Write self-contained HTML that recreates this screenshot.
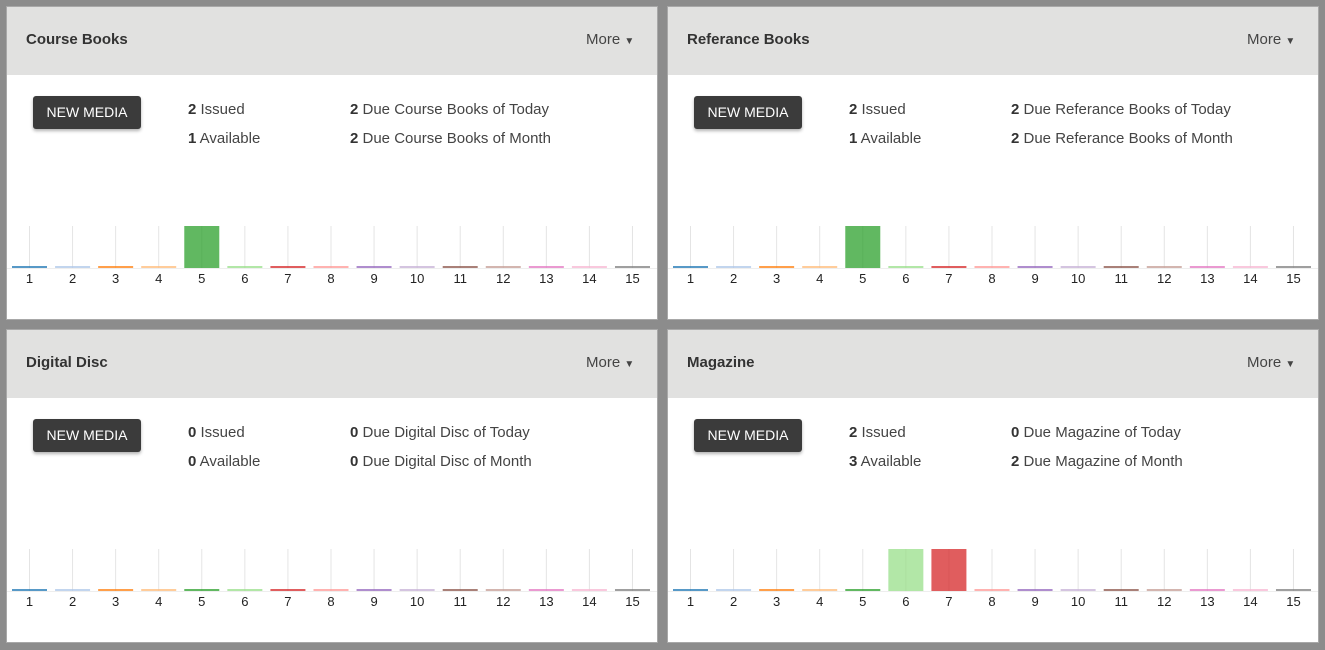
<!DOCTYPE html>
<html><head><meta charset="utf-8"><style>
body{margin:0;width:1325px;height:650px;background:#8c8c8c;font-family:"Liberation Sans",sans-serif;position:relative;overflow:hidden}
.panel{position:absolute;width:650px;height:312px;background:#fff;outline:1px solid #a8a8a8}
.hdr{position:absolute;left:0;top:0;width:650px;height:68px;background:#e1e1e0}
.title{position:absolute;left:19px;top:24px;font-size:15px;font-weight:bold;color:#333}
.more{position:absolute;left:579px;top:24px;font-size:15px;color:#444}
.btn{position:absolute;left:26px;top:89px;width:108px;height:33px;background:#3b3b3b;color:#fff;border-radius:3px;font-size:14px;line-height:33px;text-align:center;box-shadow:0 2px 3px rgba(0,0,0,.3)}
.st{position:absolute;font-size:15px;color:#444}
.st b{color:#333}
svg{position:absolute;left:0;top:200px}
</style></head><body>
<div id="root"></div>
<script>
const panels=[
 {name:'course-books',title:'Course Books',x:7,y:7,issued:2,avail:1,today:2,month:2,label:'Course Books'},
 {name:'referance-books',title:'Referance Books',x:668,y:7,issued:2,avail:1,today:2,month:2,label:'Referance Books'},
 {name:'digital-disc',title:'Digital Disc',x:7,y:330,issued:0,avail:0,today:0,month:0,label:'Digital Disc'},
 {name:'magazine',title:'Magazine',x:668,y:330,issued:2,avail:3,today:0,month:2,label:'Magazine'}
];
const categories=[1,2,3,4,5,6,7,8,9,10,11,12,13,14,15];
const courseValues=[0,0,0,0,2,0,0,0,0,0,0,0,0,0,0];
const referanceValues=[0,0,0,0,2,0,0,0,0,0,0,0,0,0,0];
const digitalValues=[0,0,0,0,0,0,0,0,0,0,0,0,0,0,0];
const magazineValues=[0,0,0,0,0,2,2,0,0,0,0,0,0,0,0];
const series=[courseValues,referanceValues,digitalValues,magazineValues];
const colors=['#1f77b4','#aec7e8','#ff7f0e','#ffbb78','#2ca02c','#98df8a','#d62728','#ff9896','#9467bd','#c5b0d5','#8c564b','#c49c94','#e377c2','#f7b6d2','#7f7f7f'];
const root=document.getElementById('root');
const NS='http://www.w3.org/2000/svg';
panels.forEach((p,pi)=>{
 const d=document.createElement('div');d.className='panel';
 
 
 d.style.left=p.x+'px';d.style.top=p.y+'px';
 d.innerHTML=`<div class="hdr"><div class="title">${p.title}</div><div class="more">More <span style="font-size:10px">&#9660;</span></div></div>
<div class="btn">NEW MEDIA</div>
<div class="st" style="left:181px;top:94px"><b>${p.issued}</b> Issued</div>
<div class="st" style="left:181px;top:123px"><b>${p.avail}</b> Available</div>
<div class="st" style="left:343px;top:94px"><b>${p.today}</b> Due ${p.label} of Today</div>
<div class="st" style="left:343px;top:123px"><b>${p.month}</b> Due ${p.label} of Month</div>`;
 const svg=document.createElementNS(NS,'svg');
 svg.setAttribute('width','650');svg.setAttribute('height','90');
 
 
 const vals=series[pi];
 const maxV=Math.max(...vals);
 const x0=22.5,step=43.07,bw=35,base=61,hmax=42;
 const xs=i=>x0+i*step;
 const ys=v=>maxV>0?v/maxV*hmax:0;
 categories.forEach((c,i)=>{
  const g=document.createElementNS(NS,'line');
  g.setAttribute('x1',xs(i));g.setAttribute('x2',xs(i));g.setAttribute('y1',base-hmax);g.setAttribute('y2',base);
  g.setAttribute('stroke','#e4e4e4');g.setAttribute('stroke-width','1');
  
  
  svg.appendChild(g);
  const h=Math.max(ys(vals[i]),2);
  const r=document.createElementNS(NS,'rect');
  r.setAttribute('x',xs(i)-bw/2);r.setAttribute('width',bw);r.setAttribute('y',base-h);r.setAttribute('height',h);
  r.setAttribute('fill',colors[i]);r.setAttribute('fill-opacity','0.75');
  
  
  svg.appendChild(r);
  const t=document.createElementNS(NS,'text');
  t.setAttribute('x',xs(i));t.setAttribute('y',base+15);t.setAttribute('text-anchor','middle');
  t.setAttribute('font-size','13');t.setAttribute('fill','#222');t.setAttribute('font-family','Liberation Sans, sans-serif');
  t.textContent=c;
  
  
  svg.appendChild(t);
 });
 const ax=document.createElementNS(NS,'line');
 ax.setAttribute('x1',0);ax.setAttribute('x2',650);ax.setAttribute('y1',base+0.5);ax.setAttribute('y2',base+0.5);
 ax.setAttribute('stroke','#eee');
 
 
 svg.insertBefore(ax,svg.firstChild);
 d.appendChild(svg);
 root.appendChild(d);
});
</script>
</body></html>
